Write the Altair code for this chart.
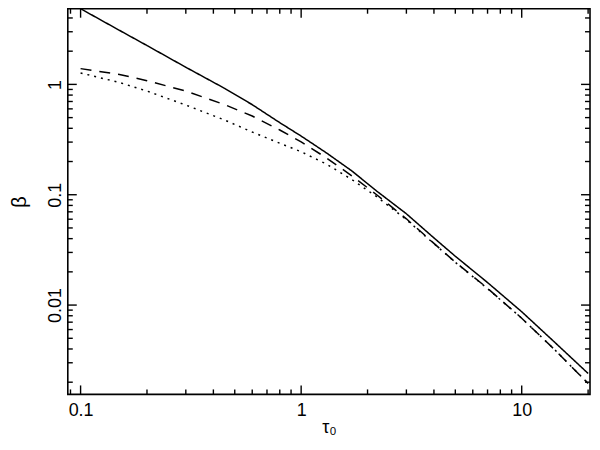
import altair as alt
import pandas as pd

# optical depth values
tau = [0.1, 0.15, 0.2, 0.3, 0.45, 0.6, 0.8, 1.0, 1.3, 1.7, 2.2, 3, 4, 5, 7, 10, 14, 20]
beta_solid = [4.85, 3.09, 2.25, 1.43, 0.92, 0.655, 0.45, 0.34, 0.24, 0.164, 0.108, 0.0672,
              0.0406, 0.0277, 0.0160, 0.0087, 0.00467, 0.0024]
beta_dashed = [1.39, 1.23, 1.08, 0.87, 0.655, 0.517, 0.386, 0.301, 0.216, 0.148, 0.100, 0.0605,
               0.0362, 0.0245, 0.0142, 0.0076, 0.0040, 0.00195]
beta_dotted = [1.27, 1.04, 0.87, 0.65, 0.475, 0.37, 0.293, 0.245, 0.19, 0.137, 0.096, 0.0595,
               0.0360, 0.0244, 0.0141, 0.0076, 0.0040, 0.00195]

series_names = ["solid", "dashed", "dotted"]

x_major = [0.1, 1, 10]
x_minor = [0.09, 0.2, 0.3, 0.4, 0.5, 0.6, 0.7, 0.8, 0.9, 2, 3, 4, 5, 6, 7, 8, 9, 20]
y_major = [0.01, 0.1, 1]
y_minor = [0.002, 0.003, 0.004, 0.005, 0.006, 0.007, 0.008, 0.009,
           0.02, 0.03, 0.04, 0.05, 0.06, 0.07, 0.08, 0.09,
           0.2, 0.3, 0.4, 0.5, 0.6, 0.7, 0.8, 0.9, 2, 3, 4]

rows = []
for name, vals in zip(series_names, [beta_solid, beta_dashed, beta_dotted]):
    for t, b in zip(tau, vals):
        rows.append({"tau": t, "beta": b, "series": name})
df = pd.DataFrame(rows)

W, H = 524, 387
FONT = "Liberation Sans"
MAJOR, MINOR = 9, 5

xscale = alt.Scale(type="log", domain=[0.0875, 20.4], nice=False)
yscale = alt.Scale(type="log", domain=[0.00155, 4.85], nice=False)

x_axis = alt.Axis(
    orient="bottom", values=x_major, format="~g", ticks=False, tickSize=0,
    domain=False, grid=False,
    labelFont=FONT, labelFontSize=18, labelColor="black", labelPadding=7,
    labelFlush=False, title="τ₀", titleFont=FONT, titleFontSize=18,
    titleFontWeight="normal", titleColor="black", titleY=38,
    titleBaseline="alphabetic")
y_axis = alt.Axis(
    orient="left", values=y_major, format="~g", ticks=False, tickSize=0,
    domain=False, grid=False,
    labelFont=FONT, labelFontSize=18, labelColor="black", labelPadding=7,
    labelAngle=270, labelAlign="center", labelBaseline="alphabetic", labelFlush=False,
    title="β", titleFont=FONT, titleFontSize=20, titleFontWeight="normal",
    titleColor="black", titleX=-48, titleY=H / 2, titleAngle=270,
    titleAlign="center", titleBaseline="middle")

lines = alt.Chart(df).mark_line(color="black", strokeWidth=1.5).encode(
    x=alt.X("tau:Q", scale=xscale, axis=x_axis, title="τ₀"),
    y=alt.Y("beta:Q", scale=yscale, axis=y_axis, title="β"),
    strokeDash=alt.StrokeDash("series:N", scale=alt.Scale(
        domain=series_names, range=[[1, 0], [11, 8], [2, 5]]), legend=None),
    detail="series:N",
)

tick_rows = []
for v in x_major:
    tick_rows.append({"v": v, "len": MAJOR})
for v in x_minor:
    tick_rows.append({"v": v, "len": MINOR})
ytick_rows = []
for v in y_major:
    ytick_rows.append({"v": v, "len": MAJOR})
for v in y_minor:
    ytick_rows.append({"v": v, "len": MINOR})
xt = pd.DataFrame(tick_rows)
yt = pd.DataFrame(ytick_rows)

def xrule(length, y0, y1):
    return alt.Chart(xt).transform_filter(f"datum.len == {length}").mark_rule(
        color="black", strokeWidth=1.4).encode(
        x=alt.X("v:Q", scale=xscale, axis=x_axis, title="τ₀"),
        y=alt.value(y0), y2=alt.value(y1))

def yrule(length, x0, x1):
    return alt.Chart(yt).transform_filter(f"datum.len == {length}").mark_rule(
        color="black", strokeWidth=1.4).encode(
        y=alt.Y("v:Q", scale=yscale, axis=y_axis, title="β"),
        x=alt.value(x0), x2=alt.value(x1))

# inward tick marks on all four sides, placed with the shared log scales
tick_layers = [
    xrule(MAJOR, H - MAJOR, H), xrule(MINOR, H - MINOR, H),
    xrule(MAJOR, 0, MAJOR), xrule(MINOR, 0, MINOR),
    yrule(MAJOR, 0, MAJOR), yrule(MINOR, 0, MINOR),
    yrule(MAJOR, W - MAJOR, W), yrule(MINOR, W - MINOR, W),
]

chart = alt.layer(*tick_layers, lines).properties(
    width=W, height=H,
    autosize=alt.AutoSizeParams(type="none"),
    padding={"left": 60, "top": 0, "right": 2, "bottom": 41},
).configure_view(stroke="black", strokeWidth=1.6)

chart.save("out.html", embed_options={"renderer": "svg", "actions": False})
